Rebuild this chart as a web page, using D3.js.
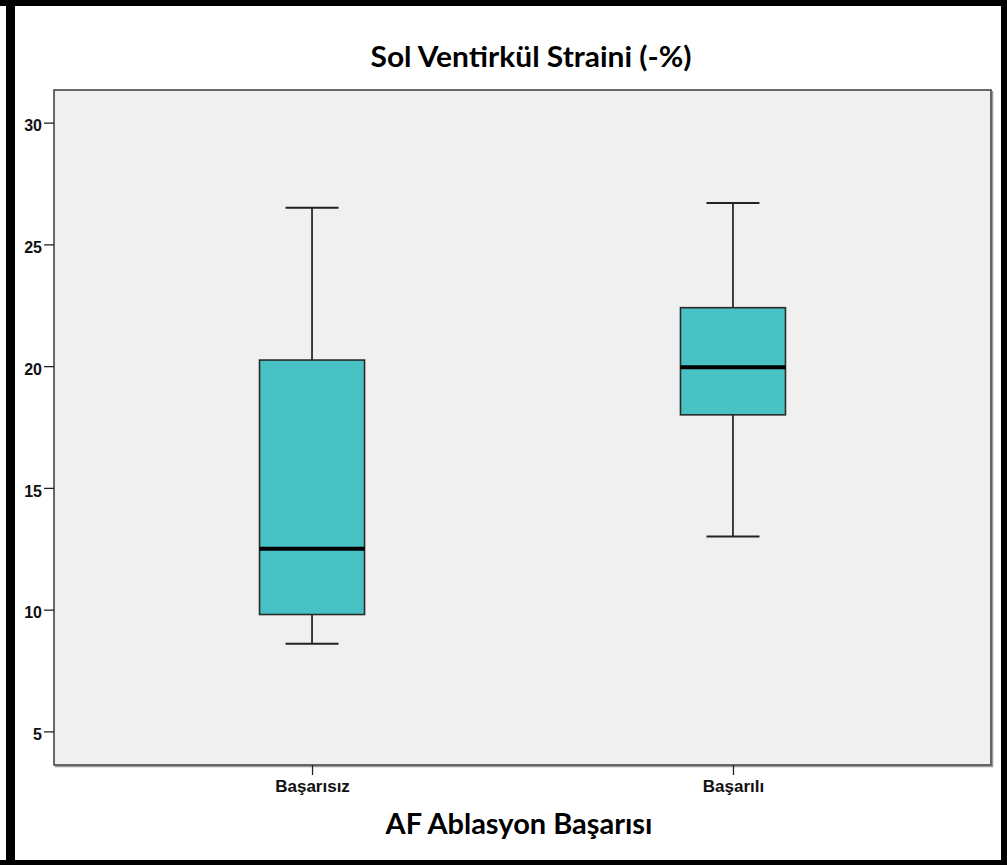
<!DOCTYPE html>
<html>
<head>
<meta charset="utf-8">
<script src="https://cdn.jsdelivr.net/npm/d3@7"></script>
<style>
  html, body { margin: 0; padding: 0; background: #fff; }
  svg { display: block; }
</style>
</head>
<body>
<svg id="chart" width="1007" height="865"></svg>
<script>
// ---- Data ----
const categories = ["Başarısız", "Başarılı"];
const whiskerLow  = [8.6, 13.0];
const q1          = [9.8, 18.0];
const median      = [12.5, 19.95];
const q3          = [20.25, 22.4];
const whiskerHigh = [26.5, 26.7];
const yTicks      = [5, 10, 15, 20, 25, 30];
const chartTitle  = "Sol Ventirkül Straini (-%)";
const xAxisTitle  = "AF Ablasyon Başarısı";

const boxes = categories.map((c, i) => ({
  cat: c, lo: whiskerLow[i], q1: q1[i], med: median[i], q3: q3[i], hi: whiskerHigh[i]
}));

const svg = d3.select("#chart");
const W = 1007, H = 865;
const plot = { left: 54, right: 991, top: 90, bottom: 765 };

svg.append("rect").attr("width", W).attr("height", H).attr("fill", "#fff");

// scales
const x = d3.scalePoint().domain(categories).range([plot.left, plot.right]).padding(0.613);
const y = d3.scaleLinear().domain([3.62, 31.34]).range([plot.bottom, plot.top]);

// plot background
svg.append("rect")
  .attr("x", plot.left).attr("y", plot.top)
  .attr("width", plot.right - plot.left).attr("height", plot.bottom - plot.top)
  .attr("fill", "#f0f0f0");

// shadow lines (right/bottom)
svg.append("path")
  .attr("d", `M${plot.right + 1.5},${plot.top + 1}V${plot.bottom + 1.5}H${plot.left + 1}`)
  .attr("fill", "none").attr("stroke", "#9a9a9a").attr("stroke-width", 1.5);
svg.append("rect")
  .attr("x", plot.left).attr("y", plot.top)
  .attr("width", plot.right - plot.left).attr("height", plot.bottom - plot.top)
  .attr("fill", "none").attr("stroke", "#3a3a3a").attr("stroke-width", 1.5);

// y axis
const yAxis = d3.axisLeft(y).tickValues(yTicks).tickSize(10).tickPadding(2).tickSizeOuter(0);
const gy = svg.append("g").attr("transform", `translate(${plot.left},0)`).call(yAxis);
gy.select(".domain").remove();
gy.selectAll(".tick line").attr("stroke", "#222").attr("stroke-width", 1.3);
gy.selectAll(".tick text")
  .attr("font-family", "'Liberation Sans', Arial, sans-serif")
  .attr("font-weight", "bold").attr("font-size", 16).attr("fill", "#111")
  .attr("dy", "0.52em");

// x axis
const xAxis = d3.axisBottom(x).tickSize(10).tickPadding(6).tickSizeOuter(0);
const gx = svg.append("g").attr("transform", `translate(0,${plot.bottom})`).call(xAxis);
gx.select(".domain").remove();
gx.selectAll(".tick line").attr("stroke", "#222").attr("stroke-width", 1.3);
gx.selectAll(".tick text")
  .attr("font-family", "'Liberation Sans', Arial, sans-serif")
  .attr("font-weight", "bold").attr("font-size", 17).attr("fill", "#111")
  .attr("dy", "0.65em");

// boxes
const boxW = 105, capW = 53;
const g = svg.append("g");
const bx = g.selectAll("g.box").data(boxes).join("g").attr("class", "box");

// whiskers
bx.append("line")
  .attr("x1", d => x(d.cat)).attr("x2", d => x(d.cat))
  .attr("y1", d => y(d.q3)).attr("y2", d => y(d.hi))
  .attr("stroke", "#111").attr("stroke-width", 1.6);
bx.append("line")
  .attr("x1", d => x(d.cat)).attr("x2", d => x(d.cat))
  .attr("y1", d => y(d.q1)).attr("y2", d => y(d.lo))
  .attr("stroke", "#111").attr("stroke-width", 1.6);
// caps
bx.append("line")
  .attr("x1", d => x(d.cat) - capW / 2).attr("x2", d => x(d.cat) + capW / 2)
  .attr("y1", d => y(d.hi)).attr("y2", d => y(d.hi))
  .attr("stroke", "#222").attr("stroke-width", 2);
bx.append("line")
  .attr("x1", d => x(d.cat) - capW / 2).attr("x2", d => x(d.cat) + capW / 2)
  .attr("y1", d => y(d.lo)).attr("y2", d => y(d.lo))
  .attr("stroke", "#222").attr("stroke-width", 2);
// box
bx.append("rect")
  .attr("x", d => x(d.cat) - boxW / 2).attr("width", boxW)
  .attr("y", d => y(d.q3)).attr("height", d => y(d.q1) - y(d.q3))
  .attr("fill", "#48c2c5").attr("stroke", "#2a2a2a").attr("stroke-width", 1.6);
// median
bx.append("line")
  .attr("x1", d => x(d.cat) - boxW / 2).attr("x2", d => x(d.cat) + boxW / 2)
  .attr("y1", d => y(d.med)).attr("y2", d => y(d.med))
  .attr("stroke", "#000").attr("stroke-width", 4);

// titles
svg.append("text")
  .attr("x", 531).attr("y", 67)
  .attr("text-anchor", "middle")
  .attr("font-family", "Lato, 'Open Sans', sans-serif")
  .attr("font-weight", "bold").attr("font-size", 28).attr("fill", "#000")
  .attr("textLength", 321).attr("lengthAdjust", "spacingAndGlyphs")
  .text(chartTitle);

svg.append("text")
  .attr("x", 519).attr("y", 833.5)
  .attr("text-anchor", "middle")
  .attr("font-family", "Lato, 'Open Sans', sans-serif")
  .attr("font-weight", "bold").attr("font-size", 28).attr("fill", "#000")
  .attr("textLength", 267).attr("lengthAdjust", "spacingAndGlyphs")
  .text(xAxisTitle);

// outer black frame
svg.append("rect").attr("x", 0).attr("y", 0).attr("width", W).attr("height", 6).attr("fill", "#000");
svg.append("rect").attr("x", 6).attr("y", 0).attr("width", 9).attr("height", H).attr("fill", "#000");
svg.append("rect").attr("x", 1001).attr("y", 0).attr("width", 6).attr("height", H).attr("fill", "#000");
svg.append("rect").attr("x", 0).attr("y", 860).attr("width", W).attr("height", 5).attr("fill", "#000");
</script>
</body>
</html>
